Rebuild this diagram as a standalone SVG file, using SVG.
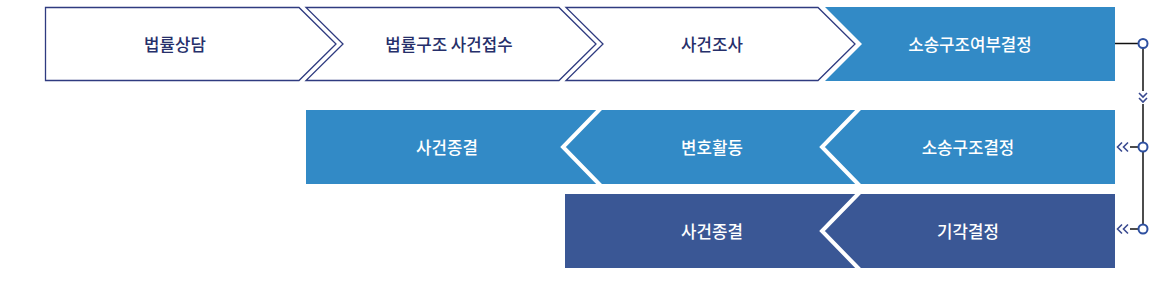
<svg xmlns="http://www.w3.org/2000/svg" width="1170" height="282" viewBox="0 0 1170 282">
<style>
.out{fill:#ffffff;stroke:#2f3b80;stroke-width:1.3}
.t{font-family:"Noto Sans CJK KR","Noto Sans",sans-serif;font-size:16.8px;font-weight:500;text-anchor:middle;dominant-baseline:central}
.dk{fill:#262f6a}
.wt{fill:#ffffff}
.sep{fill:none;stroke:#ffffff;stroke-width:4}
.ln{fill:none;stroke:#111111;stroke-width:1.5}
.dot{fill:#ffffff;stroke:#2e50a0;stroke-width:2}
.chev{fill:none;stroke:#3a4a90;stroke-width:1.6}
</style>
<g id="n1"><polygon class="out" points="45.5,7.5 299,7.5 336,44 299,80.5 45.5,80.5"/><text class="t dk" x="175" y="44">법률상담</text></g>
<g id="n2"><polygon class="out" points="306,7.5 559,7.5 596,44 559,80.5 306,80.5 343,44"/><text class="t dk" x="449" y="44">법률구조 사건접수</text></g>
<g id="n3"><polygon class="out" points="566,7.5 818,7.5 855,44 818,80.5 566,80.5 603,44"/><text class="t dk" x="712" y="44">사건조사</text></g>
<g id="n4"><polygon fill="#328ac6" points="825,7 1115,7 1115,81 825,81 862,44"/><text class="t wt" x="970" y="44">소송구조여부결정</text></g>
<g id="r2"><rect x="306" y="110" width="809" height="74" fill="#328ac6"/>
<polyline class="sep" points="601,108 563,147 601,186"/>
<polyline class="sep" points="860,108 822,147 860,186"/></g>
<g id="n5"><text class="t wt" x="447" y="147">사건종결</text></g>
<g id="n6"><text class="t wt" x="712" y="147">변호활동</text></g>
<g id="n7"><text class="t wt" x="968" y="147">소송구조결정</text></g>
<g id="r3"><rect x="565" y="194" width="550" height="74" fill="#3a5795"/>
<polyline class="sep" points="860,192 822,231 860,270"/></g>
<g id="n8"><text class="t wt" x="712" y="231">사건종결</text></g>
<g id="n9"><text class="t wt" x="968" y="231">기각결정</text></g>
<g id="connectors">
<line class="ln" x1="1115" y1="43.5" x2="1139" y2="43.5"/>
<line class="ln" x1="1143" y1="48" x2="1143" y2="91"/>
<line class="ln" x1="1143" y1="104" x2="1143" y2="225"/>
<polyline class="chev" points="1139,93 1143,97 1147,93"/>
<polyline class="chev" points="1139,98 1143,102 1147,98"/>
<line class="ln" x1="1130" y1="147" x2="1139" y2="147"/>
<polyline class="chev" points="1122,142.5 1117.5,147 1122,151.5"/>
<polyline class="chev" points="1128,142.5 1123.5,147 1128,151.5"/>
<line class="ln" x1="1130" y1="229" x2="1139" y2="229"/>
<polyline class="chev" points="1122,224.5 1117.5,229 1122,233.5"/>
<polyline class="chev" points="1128,224.5 1123.5,229 1128,233.5"/>
<circle class="dot" cx="1143" cy="43.5" r="4.5"/>
<circle class="dot" cx="1143" cy="147" r="4.5"/>
<circle class="dot" cx="1143" cy="229" r="4.5"/>
</g>
</svg>
